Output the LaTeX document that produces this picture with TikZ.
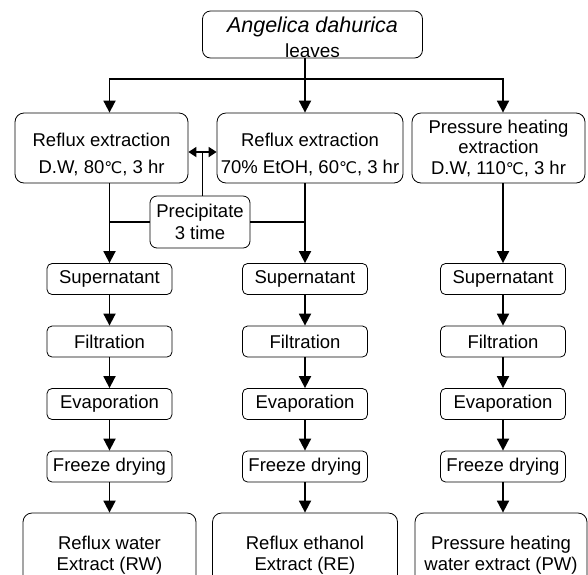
\documentclass[tikz,border=0pt]{standalone}
\usepackage{fontspec}
\setmainfont{Liberation Sans}
\newfontfamily\dvsfont{DejaVu Sans}
\usetikzlibrary{arrows.meta}
\newcommand{\degcel}{{\dvsfont\fontsize{16}{16}\selectfont\char"2103}}
\begin{document}
\begin{tikzpicture}[x=1pt,y=-1pt,
  bx/.style={draw, line width=0.8pt, inner sep=0pt, rounded corners=7pt},
  txt/.style={align=center, inner sep=0pt, font=\fontsize{18.5}{22}\selectfont},
  sm/.style={bx, txt, minimum width=125pt, minimum height=31pt, rounded corners=5pt},
  fin/.style={bx, minimum height=76pt, rounded corners=9pt},
  fintxt/.style={txt, font=\fontsize{18.5}{21}\selectfont},
  ln/.style={line width=1.8pt},
  arr/.style={line width=1.8pt, -{Triangle[length=12pt,width=12pt]}},
  dbl/.style={line width=1.8pt, {Triangle[length=8pt,width=10pt]}-{Triangle[length=8pt,width=10pt]}}]
\useasboundingbox (0,0) rectangle (588,574);
\clip (0,0) rectangle (588,574);
% top box
\node[bx, minimum width=220pt, minimum height=47pt, rounded corners=8pt] (top) at (312.5,34.5) {};
\node[txt, font=\fontsize{19}{25}\selectfont] (topt) at (312.5,37) {{\fontsize{21.5}{25}\selectfont\textit{Angelica dahurica}}\\leaves};
% first row
\node[bx, minimum width=173pt, minimum height=70pt, rounded corners=9pt] (b1) at (101.5,148) {};
\node[txt] (b1t) at (101.5,154) {Reflux extraction\\[5pt]D.W, 80\degcel, 3 hr};
\node[bx, minimum width=186pt, minimum height=70pt, rounded corners=9pt] (b2) at (310,148) {};
\node[txt] (b2t) at (310,154) {Reflux extraction\\[5pt]70\% EtOH, 60\degcel, 3 hr};
\node[bx, minimum width=173pt, minimum height=70pt, rounded corners=9pt] (b3) at (498.5,148) {};
\node[txt, font=\fontsize{18.5}{20.5}\selectfont] (b3t) at (498.5,148) {Pressure heating\\extraction\\D.W, 110\degcel, 3 hr};
% precipitate
\node[bx, txt, minimum width=100pt, minimum height=52pt, rounded corners=7pt] (pr) at (200,222) {Precipitate\\3 time};
% columns
\node[sm] (s1) at (109.5,279) {Supernatant};
\node[sm] (s2) at (305,279) {Supernatant};
\node[sm] (s3) at (503,279) {Supernatant};
\node[sm] (f1) at (109.5,341.5) {Filtration};
\node[sm] (f2) at (305,341.5) {Filtration};
\node[sm] (f3) at (503,341.5) {Filtration};
\node[sm] (e1) at (109.5,404) {Evaporation};
\node[sm] (e2) at (305,404) {Evaporation};
\node[sm] (e3) at (503,404) {Evaporation};
\node[sm] (z1) at (109.5,466.5) {Freeze drying};
\node[sm] (z2) at (305,466.5) {Freeze drying};
\node[sm] (z3) at (503,466.5) {Freeze drying};
\node[fin, minimum width=173pt] (r1) at (109.5,551) {};
\node[fintxt] (r1t) at (109.5,555) {Reflux water\\Extract (RW)};
\node[fin, minimum width=185pt] (r2) at (305,551) {};
\node[fintxt] (r2t) at (305,555) {Reflux ethanol\\Extract (RE)};
\node[fin, minimum width=172pt] (r3) at (501,551) {};
\node[fintxt] (r3t) at (501,555) {Pressure heating\\water extract (PW)};
% connectors from top
\coordinate (hub) at (305,79);
\coordinate (hl) at (109.5,79);
\coordinate (hr) at (503,79);
\draw[ln] (top.south -| hub) -- (hub);
\draw[ln, line cap=rect] (hl) -- (hr);
\draw[arr] (hl) -- (hl |- b1.north);
\draw[arr] (hub) -- (hub |- b2.north);
\draw[arr] (hr) -- (hr |- b3.north);
% double arrow and precipitate
\coordinate (dm) at (202.5,152);
\draw[dbl] (b1.east |- dm) -- (b2.west |- dm);
\draw[ln] (dm) -- (dm |- pr.north);
\draw[ln] (pr.west) -- (pr.west -| s1.north);
\draw[ln] (pr.east) -- (pr.east -| s2.north);
% column arrows
\draw[arr] (s1.north |- b1.south) -- (s1.north);
\draw[arr] (s2.north |- b2.south) -- (s2.north);
\draw[arr] (s3.north |- b3.south) -- (s3.north);
\draw[arr] (s1.south) -- (f1.north);
\draw[arr] (s2.south) -- (f2.north);
\draw[arr] (s3.south) -- (f3.north);
\draw[arr] (f1.south) -- (e1.north);
\draw[arr] (f2.south) -- (e2.north);
\draw[arr] (f3.south) -- (e3.north);
\draw[arr] (e1.south) -- (z1.north);
\draw[arr] (e2.south) -- (z2.north);
\draw[arr] (e3.south) -- (z3.north);
\draw[arr] (z1.south) -- (z1.south |- r1.north);
\draw[arr] (z2.south) -- (z2.south |- r2.north);
\draw[arr] (z3.south) -- (z3.south |- r3.north);
\end{tikzpicture}
\end{document}
